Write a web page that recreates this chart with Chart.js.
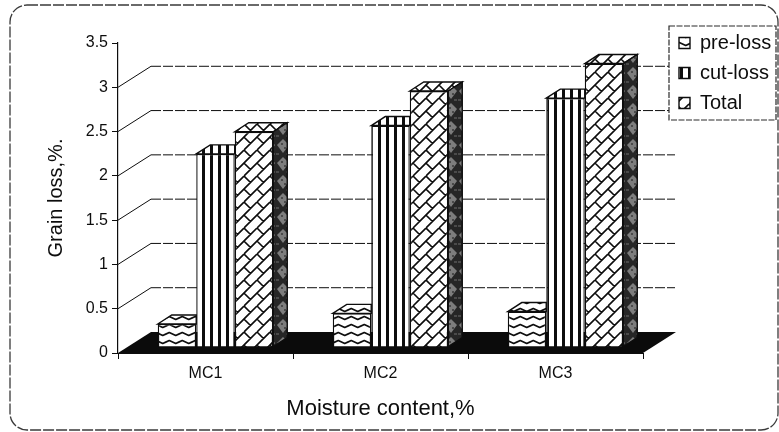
<!DOCTYPE html>
<html>
<head>
<meta charset="utf-8">
<script src="https://cdn.jsdelivr.net/npm/chart.js@4"></script>
<style>html,body{margin:0;padding:0;background:#fff}#w{width:779px;height:432px;position:relative}</style>
</head>
<body>
<div id="w"><canvas id="c" width="779" height="432"></canvas></div>
<script>
const categories = ['MC1', 'MC2', 'MC3'];
const preLoss = [0.26, 0.38, 0.40];
const cutLoss = [2.18, 2.50, 2.81];
const total = [2.43, 2.89, 3.20];
const yTicks = [0, 0.5, 1, 1.5, 2, 2.5, 3, 3.5];
const seriesNames = ['pre-loss', 'cut-loss', 'Total'];
const xTitle = 'Moisture content,%';
const yTitle = 'Grain loss,%.';

const INK = '#0d0d0d';
const FONT = '"Liberation Sans", Arial, sans-serif';

function tile(w, h, paint) {
  const t = document.createElement('canvas');
  t.width = w; t.height = h;
  const g = t.getContext('2d');
  paint(g, w, h);
  return document.createElement('canvas').getContext('2d').createPattern(t, 'repeat');
}
const wavePat = tile(13, 8, (g, w, h) => {
  g.fillStyle = '#fff'; g.fillRect(0, 0, w, h);
  g.strokeStyle = INK; g.lineWidth = 1.7; g.lineJoin = 'round';
  g.beginPath();
  g.moveTo(-3.25, 5.5); g.lineTo(3.25, 2.5); g.lineTo(9.75, 5.5); g.lineTo(16.25, 2.5);
  g.stroke();
});
const stripePat = tile(8, 8, (g, w, h) => {
  g.fillStyle = '#fff'; g.fillRect(0, 0, w, h);
  g.fillStyle = INK; g.fillRect(0, 0, 3, h);
});
const brickPat = tile(26, 26, (g, w, h) => {
  g.fillStyle = '#fff'; g.fillRect(0, 0, w, h);
  g.strokeStyle = INK; g.lineWidth = 1.6;
  g.beginPath();
  for (let k = -52; k <= 78; k += 13) { g.moveTo(k, 0); g.lineTo(k - 26, 26); }
  const bars = [[0, 0], [13, 13], [13, 0], [0, 13]];
  for (let a = -1; a < 2; a++) {
    for (let b = -1; b < 2; b++) {
      bars.forEach(([p, q]) => {
        g.moveTo(a * 26 + p, b * 26 + q);
        g.lineTo(a * 26 + p + 6.5, b * 26 + q + 6.5);
      });
    }
  }
  g.stroke();
});
const stipplePat = tile(14, 18, (g, w, h) => {
  g.fillStyle = '#262626'; g.fillRect(0, 0, w, h);
  g.fillStyle = '#7d7d7d';
  g.beginPath(); g.moveTo(7, 1); g.lineTo(13, 7); g.lineTo(7, 15); g.lineTo(1, 7); g.closePath(); g.fill();
  g.fillStyle = '#4a4a4a';
  g.fillRect(5, 5, 2, 2); g.fillRect(8, 9, 2, 2); g.fillRect(0, 15, 3, 2); g.fillRect(10, 15, 3, 2);
});

const DX = 14, DY = 9;          // bar depth
const BX = 10, BY = -6;         // bar shift from the floor's front edge
const WX = 33, WY = -21;        // wall depth
const WALL_END = 675;

const faces = {
  id: 'faces',
  afterLayout(chart) {
    const l = chart.legend;
    l.left = 669; l.right = 776; l.top = 23; l.bottom = 127;
  },
  beforeDatasetsDraw(chart) {
    const { ctx, scales: { y } } = chart;
    const a = chart.chartArea;
    ctx.save();
    ctx.strokeStyle = '#3a3a3a'; ctx.lineWidth = 1.3; ctx.setLineDash([11, 2]);
    ctx.beginPath(); ctx.roundRect(10, 5, 768, 425, 17); ctx.stroke();
    ctx.setLineDash([]);
    ctx.fillStyle = '#0b0b0b';
    ctx.beginPath();
    ctx.moveTo(a.left, a.bottom); ctx.lineTo(a.right, a.bottom);
    ctx.lineTo(a.right + WX, a.bottom + WY); ctx.lineTo(a.left + WX, a.bottom + WY);
    ctx.closePath(); ctx.fill();
    ctx.strokeStyle = INK; ctx.lineWidth = 1;
    yTicks.forEach(v => {
      if (v === 0 || v === yTicks[yTicks.length - 1]) return;
      const p = y.getPixelForValue(v);
      ctx.setLineDash([]);
      ctx.beginPath(); ctx.moveTo(a.left, p); ctx.lineTo(a.left + WX, p + WY); ctx.stroke();
      ctx.setLineDash([10, 2]);
      ctx.beginPath(); ctx.moveTo(a.left + WX, p + WY); ctx.lineTo(WALL_END, p + WY); ctx.stroke();
    });
    ctx.restore();
  },
  // Chart.js paints the last dataset first, so the top of an inner bar stops at
  // its own right edge and only the rightmost bar shows a side face.
  beforeDatasetDraw(chart, args) {
    const { ctx } = chart;
    const last = args.index === chart.data.datasets.length - 1;
    ctx.save();
    ctx.translate(BX, BY);
    ctx.strokeStyle = INK; ctx.lineWidth = 1.4;
    args.meta.data.forEach(el => {
      const { x, y, base, width } = el.getProps(['x', 'y', 'base', 'width'], true);
      const l = x - width / 2, r = x + width / 2;
      ctx.fillStyle = chart.data.datasets[args.index].backgroundColor;
      ctx.beginPath();
      ctx.moveTo(l, y); ctx.lineTo(l + DX, y - DY);
      if (last) { ctx.lineTo(r + DX, y - DY); } else { ctx.lineTo(r, y - DY); }
      ctx.lineTo(r, y);
      ctx.closePath(); ctx.fill(); ctx.stroke();
      if (last) {
        ctx.fillStyle = stipplePat;
        ctx.beginPath();
        ctx.moveTo(r, y); ctx.lineTo(r + DX, y - DY); ctx.lineTo(r + DX, base - DY); ctx.lineTo(r, base);
        ctx.closePath(); ctx.fill(); ctx.stroke();
      }
    });
  },
  afterDatasetDraw(chart) {
    chart.ctx.restore();
  },
  afterDatasetsDraw(chart) {
    const { ctx } = chart;
    ctx.save();
    ctx.fillStyle = '#fff'; ctx.strokeStyle = '#2a2a2a'; ctx.lineWidth = 1.2;
    ctx.setLineDash([6, 1.5]);
    ctx.beginPath(); ctx.rect(669, 26, 107, 94); ctx.fill(); ctx.stroke();
    ctx.restore();
    chart.legend.draw();
  }
};

new Chart(document.getElementById('c'), {
  type: 'bar',
  data: {
    labels: categories,
    datasets: [
      { label: seriesNames[0], data: preLoss, backgroundColor: wavePat },
      { label: seriesNames[1], data: cutLoss, backgroundColor: stripePat },
      { label: seriesNames[2], data: total, backgroundColor: brickPat }
    ].map(d => Object.assign(d, { borderColor: INK, borderWidth: 1.4, categoryPercentage: 0.66, barPercentage: 1 }))
  },
  plugins: [faces],
  options: {
    responsive: false,
    animation: false,
    layout: { padding: { left: 0, top: 43, right: 136, bottom: 0 } },
    plugins: {
      tooltip: { enabled: false },
      title: { display: false },
      legend: {
        position: 'chartArea',
        align: 'start',
        labels: {
          boxWidth: 11, boxHeight: 11, padding: 10, color: INK,
          font: { family: FONT, size: 20 }
        }
      }
    },
    scales: {
      x: {
        afterFit: s => { s.height = 79; },
        grid: { display: true, drawOnChartArea: false, drawTicks: true, tickLength: 6, offset: true, color: INK, lineWidth: 1 },
        border: { color: INK, width: 1 },
        ticks: { color: INK, font: { family: FONT, size: 16 }, padding: 5, maxRotation: 0 },
        title: { display: true, text: xTitle, color: INK, font: { family: FONT, size: 22 }, padding: { top: 0, bottom: 10 } }
      },
      y: {
        min: 0, max: 3.5,
        afterFit: s => { s.width = 118; },
        afterBuildTicks: s => { s.ticks = yTicks.map(v => ({ value: v })); },
        grid: { display: true, drawOnChartArea: false, drawTicks: true, tickLength: 6, color: INK, lineWidth: 1 },
        border: { color: INK, width: 1.2 },
        ticks: { color: INK, font: { family: FONT, size: 16 }, padding: 4, callback: v => String(v) },
        title: { display: true, text: yTitle, color: INK, font: { family: FONT, size: 20 }, padding: { top: 44, bottom: 0 } }
      }
    }
  }
});
</script>
</body>
</html>
